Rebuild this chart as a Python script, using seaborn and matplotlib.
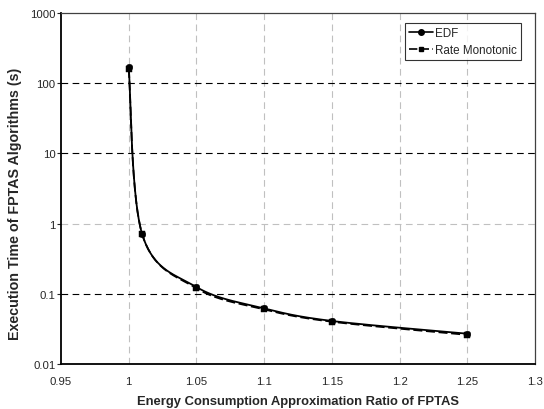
"""Execution time of FPTAS algorithms vs. energy approximation ratio."""

import matplotlib

matplotlib.use("Agg")
import matplotlib.pyplot as plt
import numpy as np
import pandas as pd
import seaborn as sns
from matplotlib.lines import Line2D

RATIO = [1.0, 1.01, 1.05, 1.1, 1.15, 1.25]
EDF_TIME = [170, 0.70, 0.125, 0.062, 0.041, 0.027]
RM_TIME = [160, 0.70, 0.12, 0.060, 0.040, 0.026]

X_TICKS = [0.95, 1.0, 1.05, 1.1, 1.15, 1.2, 1.25, 1.3]
X_LABELS = ["0.95", "1", "1.05", "1.1", "1.15", "1.2", "1.25", "1.3"]
Y_TICKS = [0.01, 0.1, 1, 10, 100, 1000]
Y_LABELS = ["0.01", "0.1", "1", "10", "100", "1000"]


def _smooth(ax, xs, ys, n=60):
    """Catmull-Rom smoothing in screen space (like a spreadsheet smoothed line)."""
    pts = ax.transData.transform(np.column_stack([xs, ys]))
    P = np.vstack([pts[0], pts, pts[-1]])
    t = np.linspace(0, 1, n)[:, None]
    segs = []
    for i in range(1, len(P) - 2):
        p0, p1, p2, p3 = P[i - 1], P[i], P[i + 1], P[i + 2]
        segs.append(0.5 * (2 * p1 + (-p0 + p2) * t
                           + (2 * p0 - 5 * p1 + 4 * p2 - p3) * t ** 2
                           + (-p0 + 3 * p1 - 3 * p2 + p3) * t ** 3))
    curve = ax.transData.inverted().transform(np.vstack(segs))
    return curve[:, 0], curve[:, 1]


def main():
    sns.set_style("white")
    plt.rcParams["font.family"] = ["Liberation Sans", "DejaVu Sans"]

    fig = plt.figure(figsize=(5.44, 4.10), dpi=100)
    ax = fig.add_axes([0.1121, 0.1098, 0.8714, 0.8561])
    ax.set_yscale("log")
    ax.set_xlim(0.95, 1.3)
    ax.set_ylim(0.01, 1000)

    # grid
    for x in X_TICKS[1:-1]:
        ax.axvline(x, color="#c0c0c0", lw=0.8, dashes=(6, 4), zorder=1)
    for y in [0.1, 10, 100]:
        ax.axhline(y, color="black", lw=0.8, dashes=(6, 4), zorder=1)
    ax.axhline(1, color="#c0c0c0", lw=0.8, dashes=(6, 4), zorder=1)

    series = [("EDF", EDF_TIME, "o", (None, None), 22),
              ("Rate Monotonic", RM_TIME, "s", (5, 2), 16)]
    for name, vals, marker, dash, size in series:
        sx, sy = _smooth(ax, RATIO, vals)
        curve = pd.DataFrame({"x": sx, "y": sy})
        sns.lineplot(data=curve, x="x", y="y", sort=False, estimator=None,
                     color="black", lw=1.3, ax=ax, zorder=3)
        if dash[0] is not None:
            ax.lines[-1].set_dashes(dash)
        pts = pd.DataFrame({"x": RATIO, "y": vals})
        sns.scatterplot(data=pts, x="x", y="y", marker=marker, s=size,
                        color="black", edgecolor="black", ax=ax, zorder=4)

    ax.set_xticks(X_TICKS)
    ax.set_xticklabels(X_LABELS)
    ax.set_yticks(Y_TICKS)
    ax.set_yticklabels(Y_LABELS)
    ax.minorticks_off()
    ax.tick_params(axis="x", length=0, pad=9, labelsize=8.2)
    ax.tick_params(axis="y", length=3, width=0.8, direction="out", left=True,
                   pad=1, labelsize=8.2)

    for side in ["left", "bottom"]:
        ax.spines[side].set_color("black")
        ax.spines[side].set_linewidth(1.3)
    for side in ["top", "right"]:
        ax.spines[side].set_color("#404040")
        ax.spines[side].set_linewidth(0.9)

    ax.set_xlabel("Energy Consumption Approximation Ratio of FPTAS",
                  fontsize=9.4, fontweight="bold", labelpad=6)
    ax.set_ylabel("Execution Time of FPTAS Algorithms (s)",
                  fontsize=10.3, fontweight="bold")
    ax.yaxis.set_label_coords(-0.082, 0.46)

    handles = [
        Line2D([], [], color="black", lw=1.2, marker="o", markersize=4),
        Line2D([], [], color="black", lw=1.2, marker="s", markersize=3.5,
               dashes=(5, 2)),
    ]
    leg = ax.legend(handles, ["EDF", "Rate Monotonic"], loc="upper right",
                    bbox_to_anchor=(0.97, 0.9715), fontsize=8.4, frameon=True,
                    fancybox=False, handlelength=2.1, handletextpad=0.15,
                    borderpad=0.35, labelspacing=0.45, borderaxespad=0)
    leg.get_frame().set_edgecolor("black")
    leg.get_frame().set_linewidth(0.8)

    fig.savefig("out.png", dpi=100)
    plt.close(fig)


if __name__ == "__main__":
    main()
